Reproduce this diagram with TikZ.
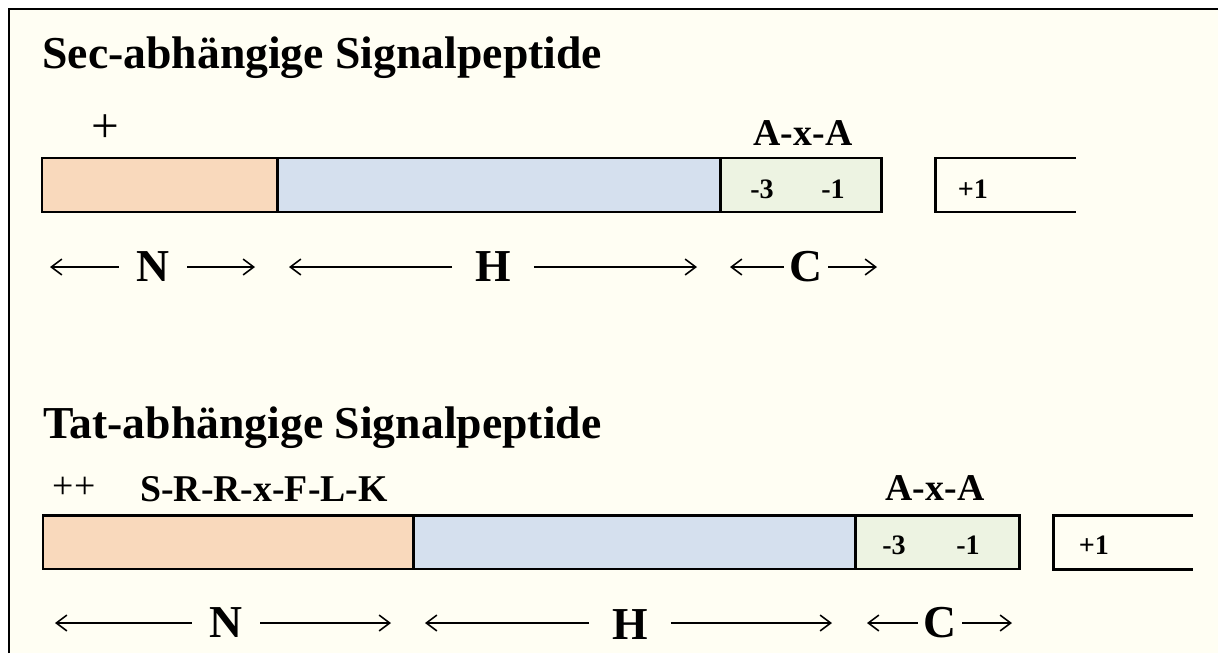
\documentclass[tikz,border=0pt]{standalone}
\usepackage{fontspec}
\setmainfont{Liberation Serif}
\usetikzlibrary{positioning,arrows.meta}

\definecolor{cream}{HTML}{FFFEF3}
\definecolor{nfill}{HTML}{F9D9BC}
\definecolor{hfill}{HTML}{D5E0EE}
\definecolor{cfill}{HTML}{EDF3E2}

\tikzset{
	seg/.style={draw, line width=1.7pt, minimum height=1.08cm, inner sep=0pt, outer sep=0pt},
	heading/.style={anchor=base west, inner sep=0pt, font=\fontsize{26}{30}\selectfont\bfseries},
	region/.style={inner ysep=0pt, font=\fontsize{26}{30}\selectfont\bfseries},
	motif/.style={anchor=base, inner sep=0pt, font=\fontsize{21.5}{25}\selectfont\bfseries},
	charge/.style={anchor=base, inner sep=0pt, font=\fontsize{21.5}{25}\selectfont},
	resnum/.style={anchor=base, inner sep=0pt, font=\fontsize{16}{19}\selectfont\bfseries},
	dimarrow/.style={-{Straight Barb[length=6pt,width=9pt]}, line width=0.9pt},
}

\begin{document}
\begin{tikzpicture}[x=0.02cm, y=-0.02cm]
	\useasboundingbox (0,0) rectangle (1218,653);

	% frame
	\fill[cream] (9,9) rectangle (1218,653);
	\draw[line width=1.7pt] (9,653) -- (9,9) -- (1218,9);

	% Sec signal peptide
	\node[heading] (secTitle) at (42,68) {Sec-abhängige Signalpeptide};

	\node[seg, fill=nfill, minimum width=4.72cm, anchor=north west] (secN) at (42,158) {};
	\node[seg, fill=hfill, minimum width=8.86cm, right=0pt of secN] (secH) {};
	\node[seg, fill=cfill, minimum width=3.22cm, right=0pt of secH] (secC) {};

	\coordinate (secMa) at (1076,158);
	\coordinate (secMb) at (935,158);
	\coordinate (secMc) at (935,212);
	\coordinate (secMd) at (1076,212);
	\draw[line width=1.7pt] (secMa) -- (secMb) -- (secMc) -- (secMd);

	\node[charge, font=\fontsize{28}{32}\selectfont] (secPlus) at (105,142) {+};
	\node[motif] (secAxA) at (803,145) {A-x-A};
	\node[resnum] (secM3) at (762,198) {-3};
	\node[resnum] (secM1) at (833,198) {-1};
	\node[resnum] (secP1) at (973,198) {+1};

	% regions N, H, C
	\node[region, inner xsep=10pt] (secNlab) at (153,267) {N};
	\node[region, inner xsep=13pt] (secHlab) at (493,267) {H};
	\node[region, inner xsep=3pt] (secClab) at (806,267) {C};

	\coordinate (secNl) at (50,267);
	\coordinate (secNr) at (255,267);
	\coordinate (secHl) at (289,267);
	\coordinate (secHr) at (697,267);
	\coordinate (secCl) at (730,267);
	\coordinate (secCr) at (877,267);

	\draw[dimarrow] (secNlab) -- (secNl);
	\draw[dimarrow] (secNlab) -- (secNr);
	\draw[dimarrow] (secHlab) -- (secHl);
	\draw[dimarrow] (secHlab) -- (secHr);
	\draw[dimarrow] (secClab) -- (secCl);
	\draw[dimarrow] (secClab) -- (secCr);

	% Tat signal peptide
	\node[heading] (tatTitle) at (43,438) {Tat-abhängige Signalpeptide};

	\node[seg, fill=nfill, minimum width=7.42cm, anchor=north west] (tatN) at (43,515) {};
	\node[seg, fill=hfill, minimum width=8.84cm, right=0pt of tatN] (tatH) {};
	\node[seg, fill=cfill, minimum width=3.28cm, right=0pt of tatH] (tatC) {};

	\coordinate (tatMa) at (1193,515);
	\coordinate (tatMb) at (1053,515);
	\coordinate (tatMc) at (1053,569);
	\coordinate (tatMd) at (1193,569);
	\draw[line width=1.7pt] (tatMa) -- (tatMb) -- (tatMc) -- (tatMd);

	\node[charge] (tatPlus) at (74,498) {++};
	\node[motif] (tatTwinR) at (264,501) {S-R-R-x-F-L-K};
	\node[motif] (tatAxA) at (935,500) {A-x-A};
	\node[resnum] (tatM3) at (894,554) {-3};
	\node[resnum] (tatM1) at (968,554) {-1};
	\node[resnum] (tatP1) at (1094,554) {+1};

	% regions N, H, C
	\node[region, inner xsep=10pt] (tatNlab) at (226,623) {N};
	\node[region, inner xsep=13pt] (tatHlab) at (630,625) {H};
	\node[region, inner xsep=3pt] (tatClab) at (940,623) {C};

	\coordinate (tatNl) at (55,623);
	\coordinate (tatNr) at (391,623);
	\coordinate (tatHl) at (425,623);
	\coordinate (tatHr) at (832,623);
	\coordinate (tatCl) at (867,623);
	\coordinate (tatCr) at (1012,623);

	\draw[dimarrow] (tatNlab) -- (tatNl);
	\draw[dimarrow] (tatNlab) -- (tatNr);
	\draw[dimarrow] (tatHlab.west |- tatHl) -- (tatHl);
	\draw[dimarrow] (tatHlab.east |- tatHr) -- (tatHr);
	\draw[dimarrow] (tatClab) -- (tatCl);
	\draw[dimarrow] (tatClab) -- (tatCr);
\end{tikzpicture}
\end{document}
